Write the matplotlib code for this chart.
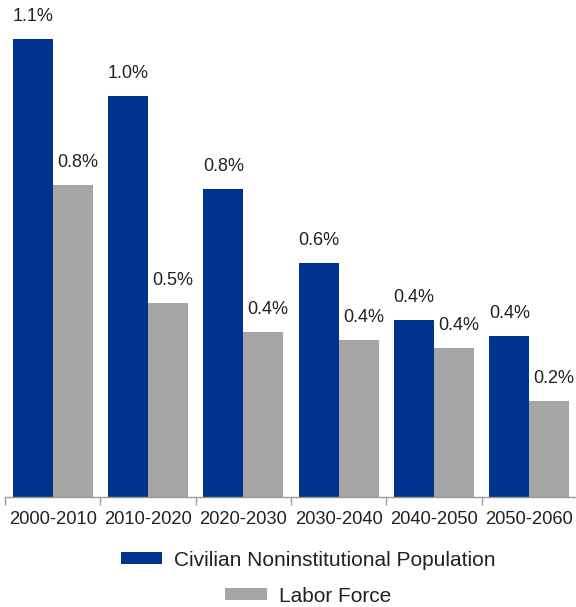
import matplotlib
matplotlib.use("Agg")
import matplotlib.pyplot as plt
import numpy as np

periods = ["2000-2010", "2010-2020", "2020-2030", "2030-2040", "2040-2050", "2050-2060"]
population = [1.131, 0.990, 0.760, 0.578, 0.437, 0.398]
labor_force = [0.770, 0.479, 0.407, 0.388, 0.368, 0.237]

BLUE = "#00338D"
GRAY = "#A6A6A6"
TEXT = "#222222"
plt.rcParams["font.family"] = ["Liberation Sans", "DejaVu Sans"]

fig = plt.figure(figsize=(5.76, 6.07), dpi=100)
ax = fig.add_axes([5 / 576, 1 - 497 / 607, 572 / 576, 487 / 607])

x = np.arange(len(periods))
w = 0.42
b1 = ax.bar(x - w / 2, population, w, color=BLUE, label="Civilian Noninstitutional Population")
b2 = ax.bar(x + w / 2, labor_force, w, color=GRAY, label="Labor Force")

for rect, v in zip(b1, population):
    ax.annotate(f"{v:.1f}%", (rect.get_x() + rect.get_width() / 2, v),
                xytext=(0, 10), textcoords="offset points",
                ha="center", va="bottom", fontsize=13, color=TEXT)
for rect, v in zip(b2, labor_force):
    ax.annotate(f"{v:.1f}%", (rect.get_x() + rect.get_width() / 2, v),
                xytext=(3.5, 10), textcoords="offset points",
                ha="center", va="bottom", fontsize=13, color=TEXT)

ax.set_xlim(-0.5, len(periods) - 0.5)
ax.set_ylim(0, 1.2025)
ax.set_yticks([])
for s in ["top", "right", "left"]:
    ax.spines[s].set_visible(False)
ax.spines["bottom"].set_color("#999999")
ax.spines["bottom"].set_linewidth(1.0)

ax.set_xticks(x)
ax.set_xticklabels(periods, fontsize=13.2, color=TEXT)
ax.tick_params(axis="x", length=0, pad=10)
ax.set_xticks(np.arange(-0.5, len(periods)), minor=True)
ax.tick_params(axis="x", which="minor", length=6, color="#999999", width=1.0, direction="out")

for handle, label, yc in [(b1, "Civilian Noninstitutional Population", 1 - 560 / 607),
                          (b2, "Labor Force", 1 - 596 / 607)]:
    lg = fig.legend([handle], [label], loc="center", bbox_to_anchor=(0.535, yc),
                    frameon=False, fontsize=15, handlelength=2.0, handleheight=0.53,
                    handletextpad=0.58, borderpad=0, borderaxespad=0)
    for t in lg.get_texts():
        t.set_color(TEXT)

fig.savefig("out.png", dpi=100)
